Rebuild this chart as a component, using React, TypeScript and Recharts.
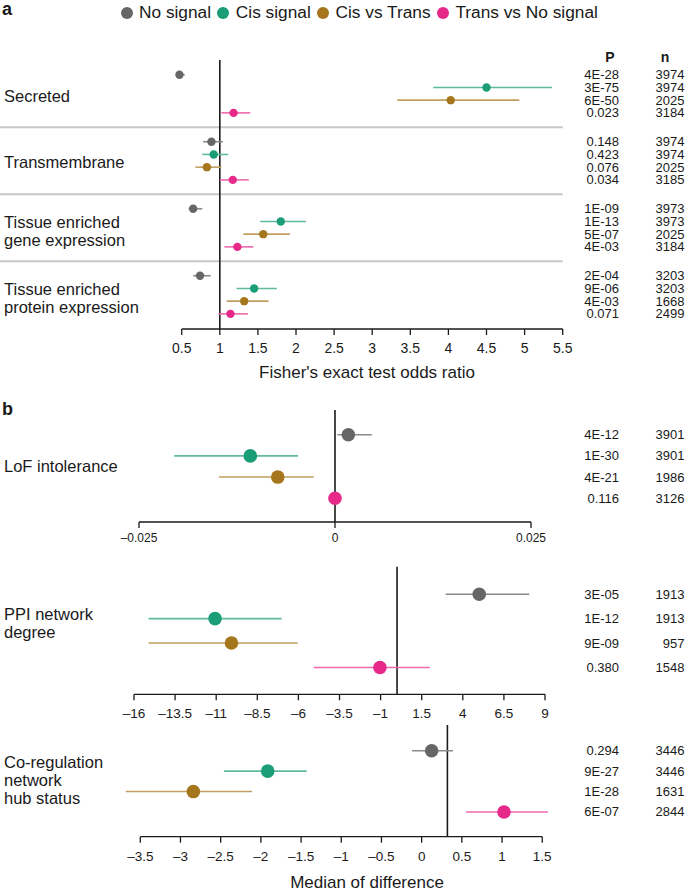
import React from "react";
import { ScatterChart, Scatter, XAxis, YAxis, ErrorBar, ReferenceLine } from "recharts";

const FONT = "'Liberation Sans', Arial, Helvetica, sans-serif";
const INK = "#1a1a1a";

export const seriesNames = ["No signal", "Cis signal", "Cis vs Trans", "Trans vs No signal"];
export const seriesColors = ["#666666", "#1b9e77", "#a6761d", "#e7298a"];
const lineColors = ["#8a8a8a", "#5fbba0", "#c09f61", "#ee69ad"];

// a: Fisher's exact test odds ratio, one array per series, one value per category
const categoriesA = [
  ["Secreted"],
  ["Transmembrane"],
  ["Tissue enriched", "gene expression"],
  ["Tissue enriched", "protein expression"],
];
const orEst = [
  [0.47, 0.89, 0.65, 0.74],
  [4.5, 0.92, 1.8, 1.45],
  [4.03, 0.83, 1.57, 1.32],
  [1.18, 1.17, 1.23, 1.14],
];
const orLow = [
  [0.45, 0.78, 0.59, 0.65],
  [3.8, 0.77, 1.53, 1.22],
  [3.33, 0.68, 1.31, 1.09],
  [1.02, 1.0, 1.06, 0.98],
];
const orHigh = [
  [0.54, 1.04, 0.77, 0.88],
  [5.36, 1.11, 2.13, 1.75],
  [4.93, 1.02, 1.92, 1.64],
  [1.4, 1.38, 1.44, 1.37],
];
const pA = [
  ["4E-28", "0.148", "1E-09", "2E-04"],
  ["3E-75", "0.423", "1E-13", "9E-06"],
  ["6E-50", "0.076", "5E-07", "4E-03"],
  ["0.023", "0.034", "4E-03", "0.071"],
];
const nA = [
  ["3974", "3974", "3973", "3203"],
  ["3974", "3974", "3973", "3203"],
  ["2025", "2025", "2025", "1668"],
  ["3184", "3185", "3184", "2499"],
];
const oddsTicks = [0.5, 1, 1.5, 2, 2.5, 3, 3.5, 4, 4.5, 5, 5.5];

// b: median of difference, one array per metric, one value per series
const metricsB = [["LoF intolerance"], ["PPI network", "degree"], ["Co-regulation", "network", "hub status"]];
const mdEst = [
  [0.0017, -0.0108, -0.0073, 0.0],
  [5.0, -11.07, -10.07, -1.04],
  [0.124, -1.915, -2.84, 1.024],
];
const mdLow = [
  [0.0003, -0.0205, -0.0148, -0.0002],
  [2.96, -15.11, -15.11, -5.07],
  [-0.12, -2.46, -3.68, 0.55],
];
const mdHigh = [
  [0.0047, -0.0047, -0.0027, 0.0002],
  [8.04, -7.02, -6.04, 2.0],
  [0.39, -1.43, -2.11, 1.57],
];
const pB = [
  ["4E-12", "1E-30", "4E-21", "0.116"],
  ["3E-05", "1E-12", "9E-09", "0.380"],
  ["0.294", "9E-27", "1E-28", "6E-07"],
];
const nB = [
  ["3901", "3901", "1986", "3126"],
  ["1913", "1913", "957", "1548"],
  ["3446", "3446", "1631", "2844"],
];
const lofTicks = [-0.025, 0, 0.025];
const ppiTicks = [-16, -13.5, -11, -8.5, -6, -3.5, -1, 1.5, 4, 6.5, 9];
const coregTicks = [-3.5, -3, -2.5, -2, -1.5, -1, -0.5, 0, 0.5, 1, 1.5];
const refB = [0, 0, 0.32];

type Row = { x: number; err: [number, number]; pos: number; s: number; p: string; n: string };

const fmtSigned = (v: number) => (v < 0 ? "\u2013" + Math.abs(v) : String(v));

const dotShape = (color: string, r: number) => (props: any) =>
  <circle cx={props.cx} cy={props.cy} r={r} fill={color} />;

function ForestPlot(props: any) {
  const {
    top, height, rows, xDomain, xTicks, fmt, tickFont, tickMargin, axisH,
    yDomain, leftW, rightW, marginTop, marginBottom, labels, labelPos, refX, seps, r,
  } = props;
  const plotW = 685 - leftW - rightW;
  const xEdge = xDomain[0] - (leftW * (xDomain[1] - xDomain[0])) / plotW;
  // left axis carries both the group labels and the P / n rows
  const yTicks = [...labelPos, ...rows.map((row: Row) => row.pos)];

  const yTick = (tp: any) => {
    const i = tp.index;
    if (i < labels.length) {
      const lines: string[] = labels[i];
      const lh = 18;
      const y0 = tp.y - ((lines.length - 1) * lh) / 2;
      return (
        <text fontSize={16.5} fontFamily={FONT} fill={INK} dominantBaseline="central">
          {lines.map((l, k) => (
            <tspan key={k} x={4} y={y0 + k * lh}>{l}</tspan>
          ))}
        </text>
      );
    }
    const row: Row = rows[i - labels.length];
    if (!row) return <g />;
    return (
      <g>
        <text x={619} y={tp.y} fontSize={13} fontFamily={FONT} fill={INK} textAnchor="end" dominantBaseline="central">{row.p}</text>
        <text x={684.5} y={tp.y} fontSize={13} fontFamily={FONT} fill={INK} textAnchor="end" dominantBaseline="central">{row.n}</text>
      </g>
    );
  };

  return (
    <div style={{ position: "absolute", left: 0, top }}>
      <ScatterChart width={685} height={height} margin={{ top: marginTop, right: rightW, bottom: marginBottom, left: 0 }}>
        <XAxis
          type="number"
          dataKey="x"
          domain={xDomain}
          ticks={xTicks}
          interval={0}
          tickFormatter={fmt}
          axisLine={false}
          tickLine={{ stroke: INK, strokeWidth: 1.3 }}
          tickSize={6}
          tickMargin={tickMargin}
          height={axisH}
          tick={{ fontSize: tickFont, fill: INK, fontFamily: FONT }}
        />
        <YAxis
          yAxisId="l"
          type="number"
          dataKey="pos"
          domain={yDomain}
          reversed
          width={leftW}
          ticks={yTicks}
          interval={0}
          axisLine={false}
          tickLine={false}
          tick={yTick}
        />
        {(seps || []).map((sp: number) => (
          <ReferenceLine
            key={sp}
            yAxisId="l"
            segment={[{ x: xEdge, y: sp }, { x: xDomain[1], y: sp }]}
            stroke="#c8c8c8"
            strokeWidth={1.8}
            ifOverflow="visible"
          />
        ))}
        <ReferenceLine yAxisId="l" x={refX} stroke={INK} strokeWidth={1.6} />
        <ReferenceLine
          yAxisId="l"
          segment={[{ x: xTicks[0], y: yDomain[1] }, { x: xTicks[xTicks.length - 1], y: yDomain[1] }]}
          stroke={INK}
          strokeWidth={1.3}
          ifOverflow="visible"
        />
        {seriesColors.map((c, s) => (
          <Scatter
            key={s}
            name={seriesNames[s]}
            yAxisId="l"
            data={rows.filter((row: Row) => row.s === s)}
            shape={dotShape(c, r)}
            isAnimationActive={false}
          >
            <ErrorBar
              dataKey="err"
              direction="x"
              width={0}
              stroke={lineColors[s]}
              strokeWidth={1.6}
              isAnimationActive={false}
            />
          </Scatter>
        ))}
      </ScatterChart>
    </div>
  );
}

const GROUP_STEP = 5.27;

export default function App() {
  const rowsA: Row[] = [];
  categoriesA.forEach((_, g) =>
    seriesNames.forEach((__, s) =>
      rowsA.push({
        x: orEst[s][g],
        err: [orEst[s][g] - orLow[s][g], orHigh[s][g] - orEst[s][g]],
        pos: g * GROUP_STEP + s,
        s,
        p: pA[s][g],
        n: nA[s][g],
      })
    )
  );
  const labelPosA = [1.65, 1.63, 1.73, 1.75].map((o, g) => g * GROUP_STEP + o);
  const sepsA = [0, 1, 2].map((g) => g * GROUP_STEP + 4.13);

  const rowsB = (m: number): Row[] =>
    seriesNames.map((_, s) => ({
      x: mdEst[m][s],
      err: [mdEst[m][s] - mdLow[m][s], mdHigh[m][s] - mdEst[m][s]],
      pos: s,
      s,
      p: pB[m][s],
      n: nB[m][s],
    }));

  return (
    <div style={{ position: "absolute", left: 0, top: 0, width: 685, height: 893, background: "#fff", fontFamily: FONT }}>
      <svg width={685} height={893} style={{ position: "absolute", left: 0, top: 0 }} fontFamily={FONT} fill={INK}>
        <text x={2} y={15} fontWeight="bold" fontSize={18}>a</text>
        <text x={2} y={415} fontWeight="bold" fontSize={18}>b</text>
        <text x={610} y={62} textAnchor="middle" fontWeight="bold" fontSize={14}>P</text>
        <text x={665} y={62} textAnchor="middle" fontWeight="bold" fontSize={14}>n</text>
        <text x={367} y={377.5} textAnchor="middle" fontSize={17}>Fisher's exact test odds ratio</text>
        <text x={367} y={888} textAnchor="middle" fontSize={17}>Median of difference</text>
      </svg>
      <div
        style={{
          position: "absolute", left: 120.6, top: 0, height: 25, display: "flex", alignItems: "center",
          fontSize: 17.3, color: INK, whiteSpace: "nowrap",
        }}
      >
        {seriesNames.map((name, i) => (
          <div key={name} style={{ display: "flex", alignItems: "center", marginRight: 6.4 }}>
            <span style={{ display: "inline-block", width: 12, height: 12, borderRadius: 6, background: seriesColors[i], marginRight: 6.4 }} />
            <span>{name}</span>
          </div>
        ))}
      </div>

      <ForestPlot
        top={0} height={390} rows={rowsA}
        xDomain={[0.4, 5.5]} xTicks={oddsTicks} fmt={(v: number) => String(v)} tickFont={14} tickMargin={8} axisH={30}
        yDomain={[-1.16, 20.0]} leftW={174.1} rightW={122.3} marginTop={60} marginBottom={31}
        labels={categoriesA} labelPos={labelPosA} refX={1} seps={sepsA} r={4.2}
      />
      <ForestPlot
        top={400} height={150} rows={rowsB(0)}
        xDomain={[-0.025, 0.025]} xTicks={lofTicks} fmt={fmtSigned} tickFont={12} tickMargin={5.5} axisH={24}
        yDomain={[-1.165, 4.12]} leftW={139} rightW={154} marginTop={10} marginBottom={4}
        labels={[metricsB[0]]} labelPos={[1.46]} refX={refB[0]} r={6.8}
      />
      <ForestPlot
        top={555} height={180} rows={rowsB(1)}
        xDomain={[-16, 9]} xTicks={ppiTicks} fmt={fmtSigned} tickFont={13.5} tickMargin={8.3} axisH={30}
        yDomain={[-1.13, 4.1]} leftW={134} rightW={140} marginTop={11.7} marginBottom={10.7}
        labels={[metricsB[1]]} labelPos={[1.18]} refX={refB[1]} r={6.8}
      />
      <ForestPlot
        top={715} height={178} rows={rowsB(2)}
        xDomain={[-3.7, 1.6]} xTicks={coregTicks} fmt={fmtSigned} tickFont={13.5} tickMargin={8.6} axisH={30}
        yDomain={[-1.26, 4.21]} leftW={124.2} rightW={134.7} marginTop={10} marginBottom={26.3}
        labels={[metricsB[2]]} labelPos={[1.43]} refX={refB[2]} r={6.8}
      />
    </div>
  );
}
